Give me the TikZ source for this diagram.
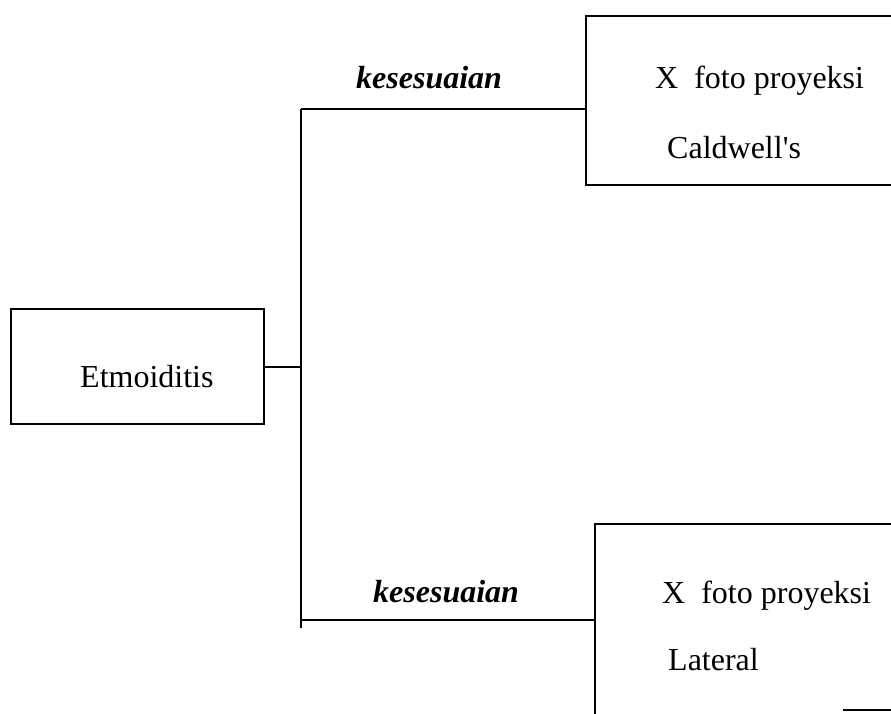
\documentclass[tikz,border=0pt]{standalone}
\usepackage{fontspec}
\setmainfont{Liberation Serif}
\begin{document}
\begin{tikzpicture}[x=1pt,y=-1pt,
  box/.style={draw,line width=2pt,rectangle,inner sep=0pt,anchor=north west},
  txt/.style={anchor=base west,inner sep=0pt,font=\fontsize{32}{38}\selectfont},
  lbl/.style={anchor=base west,inner sep=0pt,font=\fontsize{32}{38}\selectfont\bfseries\itshape},
  conn/.style={line width=2pt}]
\useasboundingbox (0,0) rectangle (891,713);
% boxes
\node[box,minimum width=253pt,minimum height=115pt] (etm) at (10,308) {};
\node[box,minimum width=330pt,minimum height=169pt] (top) at (585,15) {};
\node[box,minimum width=330pt,minimum height=210pt] (bot) at (594,523) {};
% texts
\node[txt] (tetm) at (80,387) {Etmoiditis};
\node[txt] (t1) at (655,88) {X\ \ foto proyeksi};
\node[txt] (t2) at (667,158) {Caldwell\textquotesingle s};
\node[txt] (b1) at (662,603) {X\ \ foto proyeksi};
\node[txt] (b2) at (668,670) {Lateral};
\node[lbl] (k1) at (356,88) {kesesuaian};
\node[lbl] (k2) at (373,602) {kesesuaian};
% connectors
\coordinate (jt) at (301,109);
\coordinate (jb) at (301,620);
\coordinate (je) at (301,628);
\coordinate (fa) at (843,710);
\coordinate (fb) at (891,710);
\draw[conn] (jt) -- (je);
\draw[conn] (etm.east) -- (etm.east -| jt);
\draw[conn] (jt) -- (jt -| top.west);
\draw[conn] (jb) -- (jb -| bot.west);
\draw[conn] (fa) -- (fb);
\end{tikzpicture}
\end{document}
